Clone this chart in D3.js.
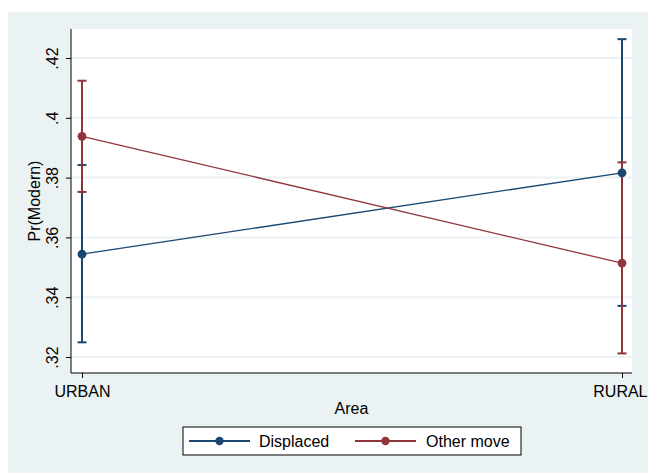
<!DOCTYPE html>
<html>
<head>
<meta charset="utf-8">
<script src="https://cdn.jsdelivr.net/npm/d3@7"></script>
<style>
  html, body { margin: 0; padding: 0; background: #ffffff; }
  svg { display: block; }
  text { font-family: "Liberation Sans", Arial, sans-serif; fill: #000; }
</style>
</head>
<body>
<svg id="chart" width="648" height="473"></svg>
<script>
// Predicted probability of modern method use by area and migration type
const areas = ["URBAN", "RURAL"];
const seriesNames = ["Displaced", "Other move"];
const displacedEst = [0.3544, 0.3816];
const displacedLo  = [0.3249, 0.3371];
const displacedHi  = [0.3842, 0.4263];
const otherEst = [0.3938, 0.3514];
const otherLo  = [0.3752, 0.3212];
const otherHi  = [0.4124, 0.3851];
const yTicks = [0.32, 0.34, 0.36, 0.38, 0.40, 0.42];
const yTickLabels = [".32", ".34", ".36", ".38", ".4", ".42"];

const colors = ["#1a476f", "#90353b"];
const series = [
  { name: seriesNames[0], est: displacedEst, lo: displacedLo, hi: displacedHi, color: colors[0] },
  { name: seriesNames[1], est: otherEst, lo: otherLo, hi: otherHi, color: colors[1] }
];

const svg = d3.select("#chart");
const plot = { left: 71, right: 632, top: 29, bottom: 373 };

// outer graph region
svg.append("rect").attr("x", 8).attr("y", 12).attr("width", 640).attr("height", 461)
  .attr("fill", "#eaf2f3");
// plot region
svg.append("rect").attr("x", plot.left).attr("y", plot.top)
  .attr("width", plot.right - plot.left).attr("height", plot.bottom - plot.top)
  .attr("fill", "#ffffff");

const x = d3.scalePoint().domain(areas).range([82, 622]).padding(0);
const y = d3.scaleLinear().domain([0.32, 0.42]).range([357, 58]);

// horizontal gridlines
svg.append("g").selectAll("line").data(yTicks).join("line")
  .attr("x1", plot.left).attr("x2", plot.right)
  .attr("y1", d => y(d)).attr("y2", d => y(d))
  .attr("stroke", "#eaf2f3").attr("stroke-width", 2);

// y axis
const yAxis = d3.axisLeft(y).tickValues(yTicks)
  .tickFormat((d, i) => yTickLabels[i]).tickSize(5).tickSizeOuter(0);
const gy = svg.append("g").attr("transform", `translate(${plot.left},0)`).call(yAxis);
gy.attr("font-size", null).attr("font-family", null);
gy.select(".domain").remove();
gy.selectAll(".tick line").attr("stroke", "#000").attr("stroke-width", 1);
gy.selectAll(".tick text")
  .attr("x", 0).attr("y", 0).attr("dy", 0)
  .attr("transform", "translate(-13,0) rotate(-90)")
  .attr("text-anchor", "middle")
  .style("font-size", "16px");
svg.append("line").attr("x1", plot.left).attr("x2", plot.left)
  .attr("y1", plot.top).attr("y2", plot.bottom).attr("stroke", "#000").attr("stroke-width", 1);

// x axis
const xAxis = d3.axisBottom(x).tickSize(5).tickSizeOuter(0);
const gx = svg.append("g").attr("transform", `translate(0,${plot.bottom})`).call(xAxis);
gx.attr("font-size", null).attr("font-family", null);
gx.select(".domain").remove();
gx.selectAll(".tick line").attr("stroke", "#000").attr("stroke-width", 1);
gx.selectAll(".tick text").attr("y", 13).attr("dy", "0.71em")
  .style("font-size", "16px");
// keep the last category label inside the graph edge
gx.selectAll(".tick text").filter(d => d === areas[areas.length - 1])
  .attr("text-anchor", "end").attr("x", 25);
svg.append("line").attr("x1", plot.left).attr("x2", plot.right)
  .attr("y1", plot.bottom).attr("y2", plot.bottom).attr("stroke", "#000").attr("stroke-width", 1);

// axis titles
svg.append("text").attr("transform", `translate(40,${(plot.top + plot.bottom) / 2}) rotate(-90)`)
  .attr("text-anchor", "middle").style("font-size", "16px").text("Pr(Modern)");
svg.append("text").attr("x", (plot.left + plot.right) / 2).attr("y", 414)
  .attr("text-anchor", "middle").style("font-size", "16px").text("Area");

// confidence intervals
const capHalf = 4.5;
series.forEach(s => {
  const g = svg.append("g");
  areas.forEach((a, i) => {
    const cx = x(a);
    g.append("line").attr("x1", cx).attr("x2", cx)
      .attr("y1", y(s.lo[i])).attr("y2", y(s.hi[i]))
      .attr("stroke", s.color).attr("stroke-width", 2);
    [s.lo[i], s.hi[i]].forEach(v => {
      g.append("line").attr("x1", cx - capHalf).attr("x2", cx + capHalf)
        .attr("y1", y(v)).attr("y2", y(v))
        .attr("stroke", s.color).attr("stroke-width", 2);
    });
  });
});

// estimate lines and markers
const line = d3.line().x((d, i) => x(areas[i])).y(d => y(d));
series.forEach(s => {
  svg.append("path").datum(s.est).attr("d", line)
    .attr("fill", "none").attr("stroke", s.color).attr("stroke-width", 1.3);
  svg.append("g").selectAll("circle").data(s.est).join("circle")
    .attr("cx", (d, i) => x(areas[i])).attr("cy", d => y(d)).attr("r", 4.4)
    .attr("fill", s.color);
});

// legend
const lg = svg.append("g");
lg.append("rect").attr("x", 183).attr("y", 427).attr("width", 338).attr("height", 28)
  .attr("fill", "#ffffff").attr("stroke", "#000").attr("stroke-width", 1);
const legendItems = [
  { x0: 189, x1: 250, tx: 259 },
  { x0: 355, x1: 416, tx: 426 }
];
series.forEach((s, i) => {
  const it = legendItems[i];
  const ly = 441;
  lg.append("line").attr("x1", it.x0).attr("x2", it.x1).attr("y1", ly).attr("y2", ly)
    .attr("stroke", s.color).attr("stroke-width", 2);
  lg.append("circle").attr("cx", (it.x0 + it.x1) / 2).attr("cy", ly).attr("r", 4.2)
    .attr("fill", s.color);
  lg.append("text").attr("x", it.tx).attr("y", ly).attr("dy", "0.36em")
    .style("font-size", "16px").text(s.name);
});
</script>
</body>
</html>
